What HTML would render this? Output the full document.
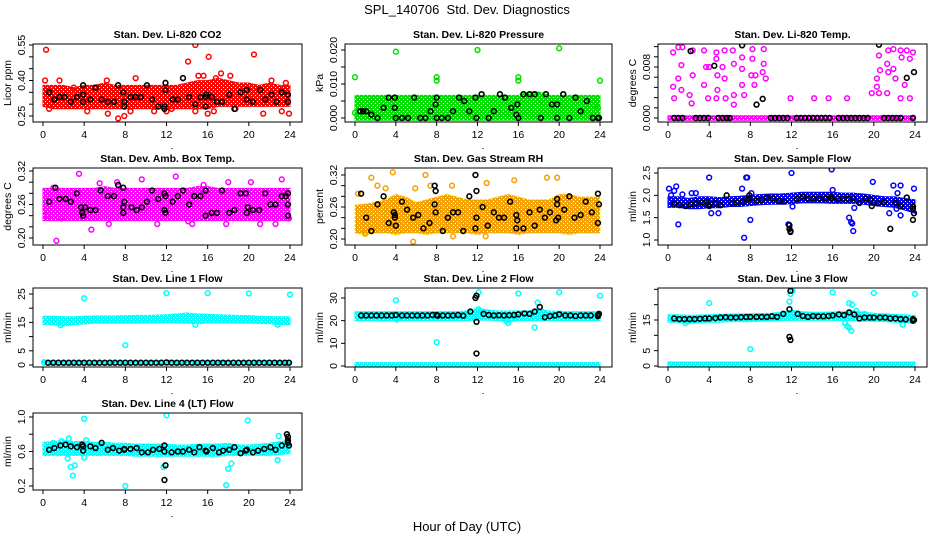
<!DOCTYPE html>
<html><head><meta charset="utf-8"><style>
html,body{margin:0;padding:0;background:#fff;}
svg{display:block;font-family:"Liberation Sans",Arial,sans-serif;}
</style></head><body>
<svg id="chart" width="936" height="540" viewBox="0 0 936 540">
<defs>
<pattern id="speckle" width="4" height="4" patternUnits="userSpaceOnUse">
<rect x="1" y="1" width="1" height="1" fill="#fff"/>
<rect x="3" y="3" width="1" height="1" fill="#fff"/>
</pattern>
</defs>
<text x="467" y="14" text-anchor="middle" font-size="13" xml:space="preserve">SPL_140706  Std. Dev. Diagnostics</text>
<text x="467" y="531" text-anchor="middle" font-size="13">Hour of Day (UTC)</text>
</svg>
<script>
const bandHours = [0,1,2,3,4,5,6,7,8,9,10,11,12,13,14,15,16,17,18,19,20,21,22,23,24];
const xTicks = [0,4,8,12,16,20,24];

// Panel 1 CO2
const co2Lo = [0.30,0.29,0.29,0.29,0.29,0.29,0.29,0.29,0.29,0.29,0.29,0.29,0.29,0.29,0.29,0.29,0.29,0.30,0.30,0.30,0.30,0.30,0.30,0.30,0.30];
const co2Hi = [0.37,0.37,0.37,0.36,0.37,0.37,0.38,0.37,0.37,0.37,0.37,0.37,0.37,0.37,0.38,0.39,0.39,0.40,0.39,0.38,0.38,0.37,0.38,0.37,0.37];
const co2Out = [[0.3,0.53],[0.2,0.40],[0.6,0.28],[1.6,0.40],[3,0.37],[4.3,0.27],[6.3,0.26],[6.2,0.40],[7.3,0.24],[7.9,0.25],[8.5,0.27],[9,0.41],[10.8,0.27],[12,0.27],[12.5,0.28],[14.1,0.48],[14.8,0.55],[15.1,0.42],[15.6,0.42],[16.1,0.50],[14.8,0.27],[16,0.26],[16.6,0.27],[17.3,0.43],[16.8,0.41],[18.2,0.42],[18.7,0.28],[20.5,0.51],[21.4,0.26],[22.2,0.40],[23.2,0.27],[23.9,0.26],[23.6,0.39]];
const co2Black = [[0.6,0.35],[1.1,0.32],[1.6,0.33],[2.1,0.33],[2.7,0.31],[3.3,0.33],[3.9,0.31],[3.9,0.34],[3.9,0.38],[4.6,0.32],[5.1,0.37],[5.7,0.32],[6.3,0.31],[6.9,0.31],[7.3,0.38],[7.8,0.35],[7.9,0.31],[7.9,0.29],[8.5,0.33],[9,0.33],[9.5,0.33],[10.1,0.38],[10.6,0.32],[11.2,0.29],[11.8,0.28],[11.8,0.29],[11.9,0.36],[11.9,0.39],[12.6,0.32],[13.1,0.32],[13.6,0.41],[14.2,0.33],[14.8,0.30],[15.3,0.33],[15.8,0.29],[15.8,0.33],[15.9,0.34],[16.4,0.33],[16.9,0.31],[17.4,0.31],[18.1,0.34],[18.6,0.28],[19.2,0.35],[19.8,0.32],[19.8,0.36],[20.4,0.31],[21.1,0.36],[21.6,0.32],[22.2,0.34],[22.7,0.31],[23.2,0.35],[23.8,0.31],[23.8,0.34]];

// Panel 2 Pressure
const presLo = [0,0,0,0,0,0,0,0,0,0,0,0,0,0,0,0,0,0,0,0,0,0,0,0,0];
const presHi = [0.006,0.006,0.006,0.006,0.006,0.006,0.006,0.006,0.006,0.006,0.006,0.006,0.006,0.006,0.006,0.006,0.006,0.007,0.007,0.006,0.006,0.006,0.006,0.006,0.006];
const presOut = [[0,0.012],[4,0.0195],[12,0.020],[20,0.0205],[8,0.012],[8,0.011],[16,0.012],[16,0.011],[24,0.011],[23.8,0.003],[0,0.0015]];
const presBlack = [[0.5,0.002],[0.8,0.002],[1.1,0.002],[1.6,0.001],[2.2,0],[2.8,0.003],[3.3,0.006],[3.9,0.006],[3.9,0.003],[4,0],[4.6,0],[5.2,0],[5.8,0.006],[6.4,0],[6.9,0],[7.4,0.002],[7.9,0.004],[8,0.006],[8,0],[8.5,0],[9.1,0],[9.6,0.002],[10.2,0.006],[10.7,0.005],[11.2,0.002],[11.8,0.006],[11.9,0],[12.4,0.007],[13.1,0],[13.6,0.002],[14.2,0.007],[14.7,0.006],[15.3,0.003],[15.8,0.001],[15.9,0.004],[16,0],[16.5,0.007],[17.1,0.007],[17.6,0.007],[18.2,0],[18.7,0.007],[19.3,0.004],[19.8,0.004],[19.8,0],[20.4,0.007],[21,0],[21.6,0.006],[22.1,0.002],[22.7,0.005],[23.3,0],[23.8,0],[23.9,0]];

// Panel 3 Li-820 Temp
const ltLo = [0,0,0,0,0,0,0,0,0,0,0,0,0,0,0,0,0,0,0,0,0,0,0,0,0];
const ltHi = [0,0,0,0,0,0,0,0,0,0,0,0,0,0,0,0,0,0,0,0,0,0,0,0,0];
const ltOut = [[0.5,0.0103],[0.5,0.0049],[0.6,0.0031],[1.0,0.0111],[1.4,0.0111],[1.3,0.0083],[1.0,0.0062],[1.3,0.0044],[2.1,0.0036],[2.3,0.0023],[2.4,0.0067],[2.4,0.0106],[3.5,0.0106],[3.5,0.0052],[3.7,0.0080],[3.9,0.0031],[4.0,0.0080],[4.7,0.0103],[4.7,0.0093],[4.8,0.0067],[4.8,0.0044],[4.7,0.0031],[5.5,0.0106],[5.3,0.0080],[5.5,0.0062],[5.6,0.0031],[6.3,0.0106],[6.4,0.0085],[6.4,0.0036],[6.4,0.0021],[7.2,0.0077],[7.2,0.0052],[7.4,0.0036],[7.2,0.0095],[8.2,0.0108],[8.2,0.0093],[8.4,0.0052],[8.5,0.0067],[8.1,0.0067],[9.3,0.0108],[9.3,0.0085],[9.5,0.0062],[9.2,0.0072],[11.9,0.0031],[14.2,0.0031],[15.6,0.0031],[17.4,0.0031],[19.8,0.0039],[20.3,0.0062],[20.3,0.0049],[20.5,0.0098],[20.6,0.0075],[20.5,0.0039],[21.3,0.0039],[21.4,0.0106],[21.3,0.0085],[21.4,0.0072],[21.9,0.0108],[21.9,0.0077],[22.1,0.0062],[22.6,0.0106],[22.7,0.0095],[22.6,0.0031],[23.0,0.0052],[23.2,0.0106],[23.5,0.0093],[23.5,0.0031],[23.8,0.0103]];
const ltBlack = [[0.6,0],[1.0,0],[1.4,0],[2.7,0],[3.1,0],[3.5,0],[3.9,0],[4.9,0],[5.3,0],[5.7,0],[6.0,0],[10.0,0],[10.4,0],[10.8,0],[11.2,0],[11.6,0],[12.5,0],[12.9,0],[13.3,0],[13.7,0],[14.1,0],[14.5,0],[14.9,0],[15.3,0],[15.7,0],[16.6,0],[17,0],[17.4,0],[17.8,0],[18.2,0],[18.6,0],[19,0],[19.4,0],[21,0],[21.4,0],[21.8,0],[22.2,0],[22.6,0],[23.8,0],[2.2,0.0105],[4.5,0.0082],[7.2,0.0114],[9.2,0.0030],[8.6,0.0021],[20.5,0.0115],[23.2,0.0063],[23.9,0.0072]];

// Panel 4 Amb box temp
const abLo = [0.235,0.235,0.235,0.235,0.235,0.235,0.235,0.235,0.235,0.235,0.235,0.235,0.235,0.235,0.235,0.235,0.235,0.235,0.235,0.235,0.235,0.235,0.235,0.235,0.235];
const abHi = [0.285,0.285,0.285,0.285,0.285,0.285,0.288,0.285,0.285,0.285,0.285,0.285,0.285,0.285,0.285,0.288,0.288,0.285,0.285,0.285,0.285,0.285,0.285,0.285,0.285];
const abOut = [[1.3,0.195],[3.5,0.315],[4.7,0.215],[6.4,0.225],[9.6,0.305],[12.9,0.31],[14.1,0.23],[15.6,0.295],[17.8,0.225],[20.2,0.300],[21.1,0.225],[22.6,0.225],[23.2,0.305],[23.9,0.235],[0.4,0.24],[1.8,0.235],[11.1,0.225],[14.5,0.225],[7.2,0.3],[18,0.3],[5.5,0.298],[1,0.29]];
const abBlack = [[0.6,0.265],[1.2,0.29],[1.6,0.27],[2.2,0.27],[2.7,0.265],[3.3,0.28],[3.7,0.255],[3.8,0.245],[3.9,0.24],[4.1,0.255],[4.6,0.25],[5.1,0.25],[5.6,0.285],[6.3,0.275],[6.9,0.275],[7.3,0.295],[7.8,0.29],[7.9,0.265],[7.8,0.255],[7.8,0.245],[8.6,0.255],[9.1,0.25],[9.6,0.255],[10.1,0.265],[10.6,0.285],[11.2,0.27],[11.8,0.28],[11.9,0.275],[11.8,0.25],[11.9,0.245],[12.6,0.265],[13.1,0.275],[13.6,0.285],[14.2,0.26],[14.7,0.275],[15.3,0.275],[15.8,0.285],[15.8,0.24],[16.4,0.245],[16.9,0.245],[17.4,0.285],[18.1,0.245],[18.6,0.25],[19.2,0.28],[19.7,0.28],[19.8,0.245],[19.9,0.255],[20.4,0.25],[21,0.25],[21.6,0.28],[22.1,0.26],[22.6,0.26],[23.2,0.275],[23.6,0.275],[23.8,0.28],[23.8,0.26],[23.8,0.24]];

// Panel 5 Gas stream RH
const rhLo = [0.215,0.212,0.215,0.215,0.212,0.215,0.215,0.212,0.215,0.215,0.215,0.215,0.212,0.215,0.215,0.215,0.212,0.215,0.215,0.215,0.215,0.212,0.215,0.215,0.215];
const rhHi = [0.26,0.262,0.265,0.27,0.28,0.275,0.265,0.27,0.275,0.28,0.275,0.27,0.27,0.27,0.275,0.28,0.275,0.27,0.27,0.27,0.28,0.28,0.275,0.275,0.275];
const rhOut = [[1.6,0.315],[2.2,0.30],[3,0.295],[3.7,0.325],[5.7,0.195],[5.9,0.295],[6.9,0.32],[7.4,0.30],[9.5,0.30],[12.9,0.305],[15.6,0.31],[18.8,0.315],[19.8,0.315],[12.8,0.205],[1,0.21],[9.6,0.205],[0.3,0.285]];
const rhBlack = [[0.6,0.285],[1.1,0.24],[1.6,0.215],[2.2,0.265],[2.8,0.28],[3.3,0.23],[3.8,0.25],[3.9,0.245],[3.9,0.24],[4,0.225],[4.6,0.27],[5.1,0.255],[5.7,0.24],[6.2,0.245],[6.7,0.22],[7.3,0.23],[7.8,0.3],[7.8,0.265],[7.9,0.29],[7.9,0.25],[8.6,0.215],[9.1,0.24],[9.6,0.25],[10.1,0.25],[10.6,0.215],[11.2,0.28],[11.8,0.32],[11.8,0.22],[11.9,0.29],[11.9,0.24],[12.5,0.26],[13,0.225],[13.6,0.25],[14.1,0.24],[14.6,0.24],[15.2,0.27],[15.8,0.245],[15.8,0.22],[15.9,0.235],[16.5,0.22],[17.1,0.25],[17.6,0.225],[18.1,0.255],[18.6,0.24],[19.1,0.25],[19.7,0.235],[19.8,0.275],[19.8,0.265],[19.9,0.24],[20.5,0.255],[21,0.28],[21.5,0.24],[22.1,0.245],[22.6,0.27],[23.2,0.25],[23.8,0.285],[23.9,0.265],[23.8,0.23]];

// Panel 6 Sample flow
const sfLo = [1.78,1.78,1.75,1.75,1.77,1.77,1.8,1.8,1.82,1.84,1.85,1.85,1.86,1.88,1.88,1.88,1.87,1.87,1.87,1.85,1.82,1.8,1.78,1.72,1.65];
const sfHi = [1.92,1.92,1.88,1.92,1.92,1.9,1.92,1.93,1.95,1.97,1.98,1.98,2.0,2.02,2.02,2.02,2.02,2.0,2.0,1.98,1.95,1.92,1.92,1.88,1.85];
const sfOut = [[0.1,2.15],[0.3,2.0],[0.8,2.2],[0.6,2.1],[1,1.35],[1.4,2.02],[2.3,2.05],[2.7,2.05],[4,2.4],[4.2,1.6],[4.9,1.6],[7.2,2.15],[7.4,1.05],[7.6,2.4],[7.7,2.4],[8,1.45],[8.1,2.05],[11.7,1.35],[12,2.5],[12.1,1.75],[15.9,2.58],[16,2.12],[17.6,1.5],[17.8,1.4],[17.9,1.37],[18,1.2],[18.1,1.72],[19.9,2.3],[21.5,1.6],[21.9,2.22],[22.2,1.7],[22.3,2.05],[22.6,1.55],[22.6,2.22],[23.9,2.15]];
const sfBlack = [[0.6,1.81],[1.1,1.78],[1.7,1.76],[2.2,1.8],[2.7,1.82],[3.3,1.84],[3.8,1.85],[3.9,1.78],[4,1.76],[4.6,1.82],[5.1,1.78],[5.7,2.0],[6.2,1.82],[6.7,1.84],[7.3,1.86],[7.7,1.9],[7.9,2.0],[7.9,1.93],[8.6,1.88],[9.1,1.9],[9.6,1.95],[10.2,1.93],[10.8,1.87],[11.3,1.86],[11.8,1.33],[11.8,1.25],[11.9,1.18],[11.9,1.2],[12.5,1.92],[13.1,1.97],[13.6,1.92],[14.1,1.93],[14.7,1.93],[15.3,1.93],[15.8,1.97],[15.9,1.93],[16.5,1.92],[17,1.92],[17.5,1.92],[18,1.94],[18.6,1.83],[19.2,1.93],[19.7,1.9],[19.8,1.76],[20.4,1.82],[21,1.85],[21.6,1.25],[22.1,1.83],[22.6,1.76],[23.2,1.95],[23.8,1.75],[23.8,1.45],[23.9,1.6],[23.8,1.7]];

// Panel 7 Line 1 flow
const l1Lo = [15,15,14.5,15,15.2,15.5,15.5,15.5,15.5,15.5,15.6,15.6,15.7,15.6,15.5,15.3,15.6,15.6,15.6,15.5,15.5,15.4,15.3,15,15];
const l1Hi = [16.4,16.4,16.2,16.2,16.4,16.5,16.5,16.5,16.6,16.7,16.7,16.8,16.9,17.2,17.6,17.2,17.1,16.9,16.8,16.7,16.6,16.4,16.3,16.2,16.2];
const l1BaseLo = [0.5,0.5,0.5,0.5,0.5,0.5,0.5,0.5,0.5,0.5,0.5,0.5,0.5,0.5,0.5,0.5,0.5,0.5,0.5,0.5,0.5,0.5,0.5,0.5,0.5];
const l1BaseHi = [1,1,1,1,1,1,1,1,1,1,1,1,1.2,1,1,1,1,1,1,1,1,1,1,1,1];
const l1Out = [[4,23.5],[8,7],[12,25.3],[16,25.3],[20,25.2],[24,24.8],[1.7,14],[14.8,14.2],[22.8,14.2],[0.1,1]];
const l1Black = [[0.5,0.8],[1,0.8],[1.5,0.8],[2,0.8],[2.5,0.8],[3,0.8],[3.5,0.8],[4,0.8],[4.5,0.8],[5,0.8],[5.5,0.8],[6,0.8],[6.5,0.8],[7,0.8],[7.5,0.8],[8,0.8],[8.5,0.8],[9,0.8],[9.5,0.8],[10,0.8],[10.5,0.8],[11,0.8],[11.5,0.8],[12,0.9],[12.5,0.8],[13,0.8],[13.5,0.8],[14,0.8],[14.5,0.8],[15,0.8],[15.5,0.8],[16,0.8],[16.5,0.8],[17,0.8],[17.5,0.8],[18,0.8],[18.5,0.8],[19,0.8],[19.5,0.8],[20,0.8],[20.5,0.8],[21,0.8],[21.5,0.8],[22,0.8],[22.5,0.8],[23,0.8],[23.5,0.8],[23.9,0.8]];

// Panel 8 Line 2 flow
const l2Lo = [21,21,21,20.8,21,21,21,21,21,21,21,21,21.2,21.2,21,20.5,21,21,21,21,21,21,21,21,21];
const l2Hi = [23,23,23,23,23,23,23,23,23,23,23,23.3,24.5,23.8,23.3,23.3,23.3,23.3,24.3,23.3,23.2,23,23,23,23];
const l2BaseLo = [0.2,0.2,0.2,0.2,0.2,0.2,0.2,0.2,0.2,0.2,0.2,0.2,0.2,0.2,0.2,0.2,0.2,0.2,0.2,0.2,0.2,0.2,0.2,0.2,0.2];
const l2BaseHi = [0.8,0.8,0.8,0.8,0.8,0.8,0.8,0.8,0.8,0.8,0.8,0.8,0.8,0.8,0.8,0.8,0.8,0.8,0.8,0.8,0.8,0.8,0.8,0.8,0.8];
const l2Out = [[4,29],[8,10.5],[12.1,32.5],[12.1,25],[16,32],[20,32.5],[24,31],[17.6,17],[15,19],[17.9,28],[4.1,20.5],[14.8,20]];
const l2Black = [[0.6,22.3],[1.1,22.3],[1.6,22.3],[2.1,22.3],[2.6,22.3],[3.1,22.3],[3.6,22.3],[4,22.5],[4.6,22.3],[5.1,22.3],[5.6,22.3],[6.1,22.3],[6.6,22.3],[7.1,22.3],[7.6,22.5],[8,22.5],[8.1,22.2],[8.6,22.3],[9.1,22.3],[9.6,22.3],[10.1,22.5],[10.6,22.2],[11.3,24],[11.8,30],[11.9,31],[11.9,19.5],[11.9,5.5],[12.6,23],[13.1,22.5],[13.6,22.3],[14.1,22.4],[14.6,22.3],[15.1,22.4],[15.6,22.5],[16,22.8],[16.6,23.2],[17.1,23],[17.6,24],[18.1,26],[18.6,21.5],[19.1,22],[19.6,22.3],[20,22.8],[20.6,22.3],[21.1,22.3],[21.6,22],[22.1,22.3],[22.6,22.3],[23.1,22.3],[23.8,22.5],[23.8,22],[23.9,23]];

// Panel 9 Line 3 flow
const l3Lo = [15,15,14.5,14.8,15,15,15.2,15.2,15.2,15.3,15.4,15.5,15.6,15.6,15.6,15.6,15.6,15.5,15.5,15.3,15.3,15.2,15,14.8,14.6];
const l3Hi = [16,16,15.8,15.9,16,16.1,16.2,16.3,16.3,16.4,16.5,16.8,17.5,17,16.8,16.8,16.9,17,17.2,16.8,16.5,16.3,16.1,16,15.8];
const l3BaseLo = [0.2,0.2,0.2,0.2,0.2,0.2,0.2,0.2,0.2,0.2,0.2,0.2,0.2,0.2,0.2,0.2,0.2,0.2,0.2,0.2,0.2,0.2,0.2,0.2,0.2];
const l3BaseHi = [0.8,0.8,0.8,0.8,0.8,0.8,0.8,0.8,0.8,0.8,0.8,0.8,0.8,0.8,0.8,0.8,0.8,0.8,0.8,0.8,0.8,0.8,0.8,0.8,0.8];
const l3Out = [[4,20.5],[8,5.5],[11.8,21],[11.9,23.5],[12.1,24.5],[16,24],[20,23.8],[24,23.5],[17.6,20.5],[17.9,20],[18.3,18],[17.2,14],[17.4,13],[17.6,12.5],[17.8,11.5],[19.1,17],[22.8,13.5],[1.7,14]];
const l3Black = [[0.6,15.5],[1.1,15.3],[1.6,15.3],[2.1,15.3],[2.6,15.3],[3.1,15.4],[3.6,15.5],[4,15.5],[4.6,15.6],[5.1,15.8],[5.6,15.9],[6.1,15.8],[6.6,15.8],[7.1,15.9],[7.6,16],[8,16],[8.6,16],[9.1,16],[9.6,16],[10.1,16.2],[10.6,16],[11.2,17],[11.8,18.5],[11.9,24.5],[11.8,9.5],[11.9,8.5],[12.6,17],[13.1,16.3],[13.6,16],[14.1,16.3],[14.6,16.2],[15.1,16.2],[15.6,16.3],[16,16.5],[16.6,16.8],[17.1,16.6],[17.6,17.5],[18.1,16.8],[18.6,15.5],[19.1,15.8],[19.6,15.8],[20,15.8],[20.6,15.8],[21.1,15.8],[21.6,15.5],[22.1,15.5],[22.6,15.3],[23.1,15.2],[23.8,15.3],[23.8,14.8],[23.9,15]];

// Panel 10 Line 4 (LT) flow
const l4Lo = [0.58,0.58,0.58,0.58,0.58,0.58,0.58,0.58,0.58,0.57,0.57,0.57,0.57,0.57,0.57,0.57,0.57,0.57,0.58,0.58,0.58,0.58,0.58,0.59,0.6];
const l4Hi = [0.68,0.69,0.70,0.69,0.69,0.68,0.68,0.67,0.67,0.66,0.66,0.66,0.66,0.65,0.65,0.66,0.66,0.66,0.67,0.65,0.65,0.66,0.67,0.69,0.7];
const l4Out = [[2.4,0.52],[2.5,0.75],[2.7,0.42],[2.9,0.32],[3.1,0.44],[4,0.98],[4.2,0.73],[4.0,0.53],[8,0.2],[11.7,0.42],[12,1.02],[17.8,0.21],[18,0.4],[18.3,0.46],[19.9,0.96],[22.8,0.5],[22.9,0.78],[1.8,0.72],[1.0,0.7]];
const l4Black = [[0.6,0.62],[1.1,0.64],[1.7,0.67],[2.2,0.68],[2.7,0.66],[3.3,0.65],[3.8,0.68],[3.9,0.66],[3.9,0.61],[4.6,0.66],[5.1,0.64],[5.7,0.7],[6.3,0.62],[6.8,0.64],[7.4,0.61],[7.9,0.63],[7.9,0.62],[8.5,0.63],[9.1,0.64],[9.6,0.59],[10.2,0.59],[10.7,0.62],[11.3,0.63],[11.8,0.67],[11.8,0.6],[11.9,0.44],[11.8,0.27],[12.5,0.59],[13.1,0.6],[13.6,0.6],[14.2,0.62],[14.7,0.59],[15.2,0.65],[15.8,0.61],[15.9,0.6],[16.5,0.64],[17.1,0.59],[17.5,0.61],[18.1,0.62],[18.6,0.65],[19.2,0.58],[19.7,0.61],[19.8,0.62],[20.4,0.59],[20.9,0.61],[21.5,0.63],[22.1,0.65],[22.6,0.62],[23.2,0.67],[23.7,0.8],[23.8,0.77],[23.8,0.73],[23.8,0.7],[23.9,0.67]];

const NS = 'http://www.w3.org/2000/svg';
const svg = document.getElementById('chart');
const cols = [{x0:43,x24:290},{x0:355,x24:600},{x0:668,x24:915}];
const rows = [{t:44,b:122},{t:168,b:245},{t:288,b:367},{t:413,b:490}];

function mk(tag, attrs, parent){
  const e = document.createElementNS(NS, tag);
  for (const k in attrs) e.setAttribute(k, attrs[k]);
  (parent||svg).appendChild(e);
  return e;
}

const panels = [
 {name:'co2',title:'Stan. Dev. Li-820 CO2',ylab:'Licor ppm',c:0,r:0,v1:0.25,p1:116,v2:0.55,p2:45,color:'#ff0000',lo:co2Lo,hi:co2Hi,out:co2Out,blk:co2Black,
  ticks:[0.25,0.30,0.35,0.40,0.45,0.50,0.55],labels:{'0.25':'0.25','0.4':'0.40','0.55':'0.55'}},
 {name:'pressure',title:'Stan. Dev. Li-820 Pressure',ylab:'kPa',c:1,r:0,v1:0,p1:118,v2:0.02,p2:50,color:'#00e000',lo:presLo,hi:presHi,out:presOut,blk:presBlack,
  ticks:[0,0.005,0.01,0.015,0.02],labels:{'0':'0.000','0.01':'0.010','0.02':'0.020'}},
 {name:'li820-temp',title:'Stan. Dev. Li-820 Temp.',ylab:'degrees C',c:2,r:0,v1:0,p1:118,v2:0.008,p2:67,color:'#ff00ff',lo:ltLo,hi:ltHi,out:ltOut,blk:ltBlack,
  ticks:[0,0.0016,0.0032,0.0048,0.0064,0.008,0.0096,0.0112],labels:{'0':'0.000','0.008':'0.008'}},
 {name:'amb-box-temp',title:'Stan. Dev. Amb. Box Temp.',ylab:'degrees C',c:0,r:1,v1:0.20,p1:238,v2:0.32,p2:171,color:'#ff00ff',lo:abLo,hi:abHi,out:abOut,blk:abBlack,
  ticks:[0.20,0.22,0.24,0.26,0.28,0.30,0.32],labels:{'0.2':'0.20','0.26':'0.26','0.32':'0.32'}},
 {name:'gas-stream-rh',title:'Stan. Dev. Gas Stream RH',ylab:'percent',c:1,r:1,v1:0.20,p1:239,v2:0.32,p2:175,color:'#f4a000',edge:'#ffee00',lo:rhLo,hi:rhHi,out:rhOut,blk:rhBlack,
  ticks:[0.20,0.22,0.24,0.26,0.28,0.30,0.32],labels:{'0.2':'0.20','0.26':'0.26','0.32':'0.32'}},
 {name:'sample-flow',title:'Stan. Dev. Sample Flow',ylab:'ml/min',c:2,r:1,v1:1.0,p1:240,v2:2.5,p2:173,color:'#0000ff',lo:sfLo,hi:sfHi,out:sfOut,blk:sfBlack,
  ticks:[1.0,1.5,2.0,2.5],labels:{'1':'1.0','1.5':'1.5','2':'2.0','2.5':'2.5'}},
 {name:'line1-flow',title:'Stan. Dev. Line 1 Flow',ylab:'ml/min',c:0,r:2,v1:0,p1:365,v2:25,p2:294,color:'#00ffff',lo:l1Lo,hi:l1Hi,blo:l1BaseLo,bhi:l1BaseHi,out:l1Out,blk:l1Black,
  ticks:[0,5,10,15,20,25],labels:{'0':'0','5':'5','15':'15','25':'25'}},
 {name:'line2-flow',title:'Stan. Dev. Line 2 Flow',ylab:'ml/min',c:1,r:2,v1:0,p1:366,v2:30,p2:298,color:'#00ffff',lo:l2Lo,hi:l2Hi,blo:l2BaseLo,bhi:l2BaseHi,out:l2Out,blk:l2Black,
  ticks:[0,10,20,30],labels:{'0':'0','10':'10','20':'20','30':'30'}},
 {name:'line3-flow',title:'Stan. Dev. Line 3 Flow',ylab:'ml/min',c:2,r:2,v1:0,p1:366,v2:15,p2:320,color:'#00ffff',lo:l3Lo,hi:l3Hi,blo:l3BaseLo,bhi:l3BaseHi,out:l3Out,blk:l3Black,
  ticks:[0,5,10,15,20,25],labels:{'0':'0','5':'5','15':'15'}},
 {name:'line4-flow',title:'Stan. Dev. Line 4 (LT) Flow',ylab:'ml/min',c:0,r:3,v1:0.2,p1:486,v2:1.0,p2:417,color:'#00ffff',lo:l4Lo,hi:l4Hi,out:l4Out,blk:l4Black,
  ticks:[0.2,0.4,0.6,0.8,1.0],labels:{'0.2':'0.2','0.6':'0.6','1':'1.0'}}
];

panels.forEach(p => {
  const col = cols[p.c], row = rows[p.r];
  const bl = col.x0 - 10, br = col.x24 + 12;
  const xS = h => col.x0 + (col.x24 - col.x0) * h / 24;
  const yS = v => p.p1 + (p.p2 - p.p1) * (v - p.v1) / (p.v2 - p.v1);
  const g = mk('g', {});
  
  

  const clipId = 'clip-' + p.name;
  const cp = mk('clipPath', {id: clipId}, g);
  mk('rect', {x: bl, y: row.t, width: br - bl, height: row.b - row.t}, cp);
  const plot = mk('g', {'clip-path': 'url(#' + clipId + ')'}, g);

  function band(lo, hi, nm, pad){
    let d = '';
    bandHours.forEach((h, i) => { d += (i ? 'L' : 'M') + xS(h) + ',' + (yS(hi[i]) - pad); });
    for (let i = bandHours.length - 1; i >= 0; i--) d += 'L' + xS(bandHours[i]) + ',' + (yS(lo[i]) + pad);
    d += 'Z';
    const b = mk('path', {d: d, fill: p.color, stroke: p.edge || p.color, 'stroke-width': 1, 'stroke-dasharray': p.edge ? '1 1' : 'none'}, plot);
    
    
    const s = mk('path', {d: d, fill: 'url(#speckle)', stroke: 'none'}, plot);
    
    
  }
  band(p.lo, p.hi, p.name + '-dense-band', 2.2);
  if (p.blo) band(p.blo, p.bhi, p.name + '-baseline-band', 1.5);

  p.out.forEach(pt => {
    const c = mk('circle', {cx: xS(pt[0]), cy: yS(pt[1]), r: 2.4, fill: 'none', stroke: p.color, 'stroke-width': 1.5}, plot);
    
    
  });
  p.blk.forEach(pt => {
    const c = mk('circle', {cx: xS(pt[0]), cy: yS(pt[1]), r: 2.4, fill: 'none', stroke: '#000', 'stroke-width': 1.6}, plot);
    
    
  });

  const box = mk('rect', {x: bl, y: row.t, width: br - bl, height: row.b - row.t, fill: 'none', stroke: '#000', 'stroke-width': 1}, g);
  
  

  const t = mk('text', {x: (bl + br) / 2, y: row.t - 6, 'text-anchor': 'middle', 'font-size': 10.5, 'font-weight': 'bold'}, g);
  t.textContent = p.title;
  
  

  const yl = mk('text', {x: 0, y: 0, 'text-anchor': 'middle', 'font-size': 10.5, transform: 'translate(' + (bl - 22) + ',' + ((row.t + row.b) / 2) + ') rotate(-90)'}, g);
  yl.textContent = p.ylab;
  
  

  xTicks.forEach(h => {
    mk('line', {x1: xS(h), x2: xS(h), y1: row.b, y2: row.b + 4, stroke: '#000'}, g);
    const tl = mk('text', {x: xS(h), y: row.b + 16, 'text-anchor': 'middle', 'font-size': 10.5}, g);
    tl.textContent = h;
    
    
  });
  p.ticks.forEach(v => {
    const y = yS(v);
    mk('line', {x1: bl, x2: bl - 4, y1: y, y2: y, stroke: '#000'}, g);
    const key = String(+v.toFixed(4));
    if (p.labels[key] !== undefined) {
      const tl = mk('text', {x: 0, y: 0, 'text-anchor': 'middle', 'font-size': 10.5, transform: 'translate(' + (bl - 8) + ',' + y + ') rotate(-90)'}, g);
      tl.textContent = p.labels[key];
      
      
    }
  });
  mk('rect', {x: (col.x0 + col.x24) / 2 + 5, y: row.b + 26, width: 1, height: 1, fill: '#000'}, g);
});
</script>
</body></html>
